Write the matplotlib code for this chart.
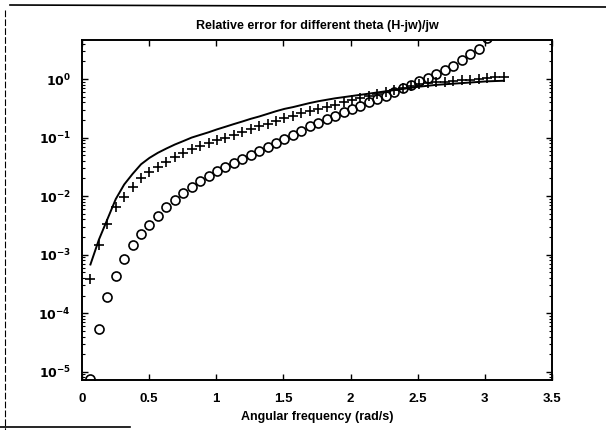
import numpy as np
import matplotlib
matplotlib.use("Agg")
import matplotlib.pyplot as plt
from matplotlib.ticker import LogLocator, FixedLocator, NullFormatter
from matplotlib.lines import Line2D

plt.rcParams['font.family'] = ['Liberation Sans', 'DejaVu Sans']

# frequency grid: k*pi/50, k=1..50
n_points = 50
w = np.arange(1, n_points + 1) * np.pi / n_points

# (relative error values)
err_line = [6.8e-4, 1.8e-3, 4.0e-3, 8.9e-3, 1.58e-2, 2.4e-2, 3.5e-2, 4.5e-2, 5.5e-2, 6.5e-2,
            7.6e-2, 8.7e-2, 1.0e-1, 1.11e-1, 1.23e-1, 1.38e-1, 1.53e-1, 1.70e-1, 1.88e-1, 2.09e-1,
            2.29e-1, 2.54e-1, 2.82e-1, 3.09e-1, 3.31e-1, 3.59e-1, 3.89e-1, 4.17e-1, 4.42e-1, 4.68e-1,
            4.90e-1, 5.13e-1, 5.37e-1, 5.62e-1, 5.89e-1, 6.17e-1, 6.46e-1, 6.76e-1, 7.08e-1, 7.41e-1,
            7.67e-1, 7.94e-1, 8.13e-1, 8.32e-1, 8.51e-1, 8.71e-1, 8.91e-1, 9.12e-1, 9.23e-1, 9.33e-1]

err_plus = [3.8e-4, 1.48e-3, 3.4e-3, 6.5e-3, 9.8e-3, 1.41e-2, 2.0e-2, 2.63e-2, 3.16e-2, 3.89e-2,
            4.57e-2, 5.37e-2, 6.31e-2, 7.08e-2, 7.94e-2, 8.91e-2, 1.0e-1, 1.12e-1, 1.23e-1, 1.38e-1,
            1.55e-1, 1.70e-1, 1.91e-1, 2.14e-1, 2.34e-1, 2.63e-1, 2.85e-1, 3.09e-1, 3.35e-1, 3.63e-1,
            3.98e-1, 4.32e-1, 4.68e-1, 5.07e-1, 5.56e-1, 6.03e-1, 6.53e-1, 7.08e-1, 7.67e-1, 8.13e-1,
            8.51e-1, 8.81e-1, 9.02e-1, 9.33e-1, 9.55e-1, 9.77e-1, 1.01, 1.05, 1.07, 1.10]

err_circ = [7.6e-6, 5.4e-5, 1.86e-4, 4.4e-4, 8.5e-4, 1.45e-3, 2.26e-3, 3.24e-3, 4.57e-3, 6.46e-3,
            8.7e-3, 1.15e-2, 1.45e-2, 1.82e-2, 2.24e-2, 2.69e-2, 3.16e-2, 3.72e-2, 4.37e-2, 5.01e-2,
            5.89e-2, 6.92e-2, 8.13e-2, 9.55e-2, 1.10e-1, 1.29e-1, 1.55e-1, 1.78e-1, 2.04e-1, 2.34e-1,
            2.69e-1, 3.05e-1, 3.47e-1, 3.98e-1, 4.52e-1, 5.19e-1, 5.96e-1, 6.92e-1, 7.94e-1, 9.12e-1,
            1.05, 1.20, 1.41, 1.70, 2.09, 2.63, 3.31, 5.0, 7.1, 10.0]

x_ticks = [0, 0.5, 1, 1.5, 2, 2.5, 3, 3.5]
x_tick_labels = ['0', '0.5', '1', '1.5', '2', '2.5', '3', '3.5']
y_ticks = [1e-5, 1e-4, 1e-3, 1e-2, 1e-1, 1e0]
y_tick_labels = [r'$\mathbf{10^{-5}}$', r'$\mathbf{10^{-4}}$', r'$\mathbf{10^{-3}}$',
                 r'$\mathbf{10^{-2}}$', r'$\mathbf{10^{-1}}$', r'$\mathbf{10^{0}}$']

title = 'Relative error for different theta (H-jw)/jw'
xlabel = 'Angular frequency (rad/s)'

fig = plt.figure(figsize=(6.06, 4.30), dpi=100)
ax = fig.add_axes([82 / 606, 50 / 430, 470 / 606, 340 / 430])

ax.plot(w, err_line, '-', color='black', lw=1.4)
ax.plot(w, err_plus, '+', color='black', ms=7, mew=1.2)
ax.plot(w, err_circ, 'o', mfc='none', mec='black', ms=6.5, mew=1.2)

ax.set_yscale('log')
ax.set_xlim(0, 3.5)
ax.set_ylim(10 ** -5.14, 10 ** 0.666)

ax.xaxis.set_major_locator(FixedLocator(x_ticks))
ax.set_xticklabels(x_tick_labels, fontsize=9.5, fontweight='bold')
ax.yaxis.set_major_locator(FixedLocator(y_ticks))
ax.set_yticklabels(y_tick_labels, fontsize=9)
ax.yaxis.set_minor_locator(LogLocator(base=10, subs=np.arange(2, 10), numticks=20))
ax.yaxis.set_minor_formatter(NullFormatter())

ax.tick_params(which='both', direction='in', top=True, right=True, color='black')
ax.tick_params(which='major', length=4, width=1.0)
ax.tick_params(axis='x', which='major', pad=9)
ax.tick_params(axis='y', which='major', pad=8)
ax.tick_params(which='minor', length=2, width=0.8)
for s in ax.spines.values():
    s.set_linewidth(1.4)

ax.set_title(title, fontsize=9, fontweight='bold', pad=8)
ax.set_xlabel(xlabel, fontsize=9, fontweight='bold', labelpad=5)

# scanned page frame
fig.add_artist(Line2D([10 / 606, 1], [1 - 5 / 430, 1 - 7 / 430], color='black', lw=1.2,
                      transform=fig.transFigure))
fig.add_artist(Line2D([5 / 606, 5 / 606], [1 - 10 / 430, 0], color='black', lw=0.8,
                      ls=(0, (6, 2)), transform=fig.transFigure))
fig.add_artist(Line2D([0, 130 / 606], [3 / 430, 3 / 430], color='black', lw=1.2,
                      transform=fig.transFigure))

fig.savefig('out.png', dpi=100)
